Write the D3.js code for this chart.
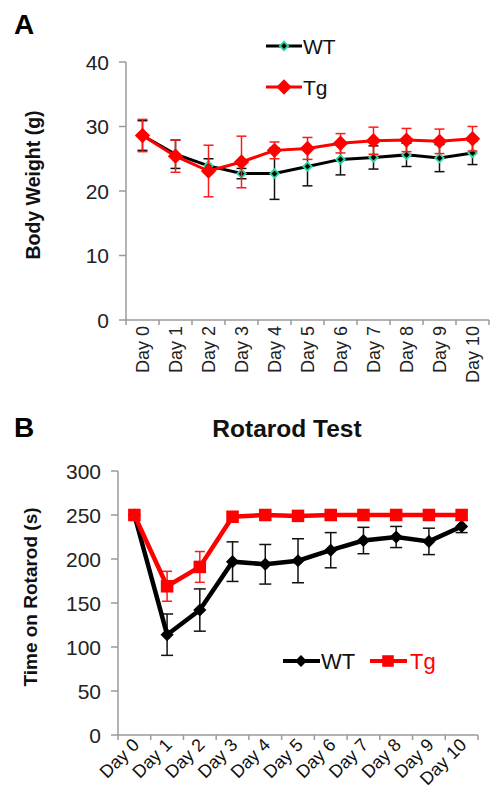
<!DOCTYPE html>
<html>
<head>
<meta charset="utf-8">
<script src="https://cdn.jsdelivr.net/npm/d3@7"></script>
<style>
  body { margin: 0; background: #fff; }
  svg { display: block; font-family: "Liberation Sans", Arial, sans-serif; }
</style>
</head>
<body>
<svg id="fig" width="491" height="800"></svg>
<script>
// --- data ---
const days = ["Day 0", "Day 1", "Day 2", "Day 3", "Day 4", "Day 5", "Day 6", "Day 7", "Day 8", "Day 9", "Day 10"];

// panel A: body weight (g)
const wtWeight    = [28.6, 25.7, 23.9, 22.7, 22.7, 23.8, 24.9, 25.2, 25.6, 25.1, 25.9];
const wtWeightErr = [2.3, 2.2, 1.1, 0.8, 4.0, 3.0, 2.4, 1.8, 1.8, 2.1, 1.8];
const tgWeight    = [28.6, 25.4, 23.1, 24.5, 26.3, 26.6, 27.4, 27.8, 27.9, 27.7, 28.1];
const tgWeightErr = [2.5, 2.5, 4.0, 4.0, 1.3, 1.7, 1.5, 2.1, 1.8, 1.9, 1.9];
const weightTicks = [0, 10, 20, 30, 40];

// panel B: rotarod time (s)
const wtRotarod    = [250, 114, 142, 197, 194, 198, 210, 221, 225, 220, 237];
const wtRotarodErr = [0, 23.5, 24, 22.5, 22.5, 25, 20, 15, 12, 15, 7];
const tgRotarod    = [250, 169, 191, 248, 250, 249, 250, 250, 250, 250, 250];
const tgRotarodErr = [0, 17, 17.5, 0, 0, 0, 0, 0, 0, 0, 0];
const rotarodTicks = [0, 50, 100, 150, 200, 250, 300];

const svg = d3.select("#fig");
const axisGrey = "#9a9a9a";

function drawAxes(g, x, y, ticks, x0, x1, yBottom) {
    // y axis line + ticks
    g.append("line").attr("x1", x0).attr("x2", x0)
        .attr("y1", y(d3.max(ticks))).attr("y2", yBottom)
        .attr("stroke", axisGrey).attr("stroke-width", 1.5);
    g.selectAll(".ytick").data(ticks).join("line")
        .attr("x1", x0 - 7).attr("x2", x0)
        .attr("y1", d => y(d)).attr("y2", d => y(d))
        .attr("stroke", axisGrey).attr("stroke-width", 1.5);
    g.selectAll(".ylab").data(ticks).join("text")
        .attr("x", x0 - 17).attr("y", d => y(d) + 7.5)
        .attr("text-anchor", "end").attr("font-size", 21).attr("fill", "#222")
        .text(d => d);
    // x axis line + category ticks
    g.append("line").attr("x1", x0).attr("x2", x1)
        .attr("y1", yBottom).attr("y2", yBottom)
        .attr("stroke", axisGrey).attr("stroke-width", 1.5);
    const edges = x.domain().map(d => x(d)).concat([x1]);
    g.selectAll(".xtick").data(edges).join("line")
        .attr("x1", d => d).attr("x2", d => d)
        .attr("y1", yBottom).attr("y2", yBottom + 5)
        .attr("stroke", axisGrey).attr("stroke-width", 1.5);
}

function errorBars(g, x, y, vals, errs, color, capW, sw) {
    const sel = g.append("g");
    vals.forEach((v, i) => {
        if (!errs[i]) return;
        const cx = x(days[i]) + x.bandwidth() / 2;
        const top = y(v + errs[i]), bot = y(v - errs[i]);
        sel.append("line").attr("x1", cx).attr("x2", cx).attr("y1", top).attr("y2", bot)
            .attr("stroke", color).attr("stroke-width", sw);
        [top, bot].forEach(yy => sel.append("line")
            .attr("x1", cx - capW / 2).attr("x2", cx + capW / 2).attr("y1", yy).attr("y2", yy)
            .attr("stroke", color).attr("stroke-width", sw));
    });
}

// ================= Panel A =================
const gA = svg.append("g");
const xA = d3.scaleBand().domain(days).range([126, 489]);
const yA = d3.scaleLinear().domain([0, 40]).range([320, 62]);
const cxA = d => xA(d) + xA.bandwidth() / 2;

gA.append("text").attr("x", 14).attr("y", 34).attr("font-size", 28).attr("font-weight", "bold").text("A");
gA.append("text").attr("transform", "translate(40,185) rotate(-90)")
    .attr("text-anchor", "middle").attr("font-size", 19.5).attr("font-weight", "bold").attr("fill", "#111")
    .text("Body Weight (g)");

drawAxes(gA, xA, yA, weightTicks, 126, 489, 320);

gA.selectAll(".xl").data(days).join("text")
    .attr("transform", d => `translate(${cxA(d) + 6.5},326) rotate(-90)`)
    .attr("text-anchor", "end").attr("font-size", 18).attr("fill", "#222")
    .text(d => d);

const lineA = d3.line().x((d, i) => cxA(days[i])).y(d => yA(d));

// WT
errorBars(gA, xA, yA, wtWeight, wtWeightErr, "#111", 10, 1.5);
gA.append("path").datum(wtWeight).attr("d", lineA).attr("fill", "none")
    .attr("stroke", "#000").attr("stroke-width", 3);
gA.selectAll(".wtm").data(wtWeight).join("path")
    .attr("transform", (d, i) => `translate(${cxA(days[i])},${yA(d)})`)
    .attr("d", d3.symbol(d3.symbolDiamond2, 46))
    .attr("fill", "#000").attr("stroke", "#2fd6a0").attr("stroke-width", 1.8);

// Tg
errorBars(gA, xA, yA, tgWeight, tgWeightErr, "#ff1a1a", 10, 1.5);
gA.append("path").datum(tgWeight).attr("d", lineA).attr("fill", "none")
    .attr("stroke", "#ff0000").attr("stroke-width", 3);
gA.selectAll(".tgm").data(tgWeight).join("path")
    .attr("transform", (d, i) => `translate(${cxA(days[i])},${yA(d)})`)
    .attr("d", d3.symbol(d3.symbolDiamond2, 150))
    .attr("fill", "#ff0000");

// legend A
const legA = gA.append("g");
legA.append("line").attr("x1", 266).attr("x2", 302).attr("y1", 46).attr("y2", 46).attr("stroke", "#000").attr("stroke-width", 3);
legA.append("path").attr("transform", "translate(284,46)").attr("d", d3.symbol(d3.symbolDiamond2, 46))
    .attr("fill", "#000").attr("stroke", "#2fd6a0").attr("stroke-width", 1.8);
legA.append("text").attr("x", 303).attr("y", 54).attr("font-size", 21).attr("fill", "#111").text("WT");
legA.append("line").attr("x1", 266).attr("x2", 302).attr("y1", 87).attr("y2", 87).attr("stroke", "#ff0000").attr("stroke-width", 3);
legA.append("path").attr("transform", "translate(284,87)").attr("d", d3.symbol(d3.symbolDiamond2, 150))
    .attr("fill", "#ff0000");
legA.append("text").attr("x", 303).attr("y", 95).attr("font-size", 21).attr("fill", "#111").text("Tg");

// ================= Panel B =================
const gB = svg.append("g");
const xB = d3.scaleBand().domain(days).range([118, 478]);
const yB = d3.scaleLinear().domain([0, 300]).range([735, 471]);
const cxB = d => xB(d) + xB.bandwidth() / 2;

gB.append("text").attr("x", 14).attr("y", 437).attr("font-size", 28).attr("font-weight", "bold").text("B");
gB.append("text").attr("x", 287).attr("y", 437).attr("text-anchor", "middle")
    .attr("font-size", 24.5).attr("font-weight", "bold").attr("fill", "#111").text("Rotarod Test");
gB.append("text").attr("transform", "translate(37,597) rotate(-90)")
    .attr("text-anchor", "middle").attr("font-size", 19).attr("font-weight", "bold").attr("fill", "#111")
    .text("Time on Rotarod (s)");

drawAxes(gB, xB, yB, rotarodTicks, 118, 478, 735);

gB.selectAll(".xl").data(days).join("text")
    .attr("transform", d => `translate(${cxB(d) + 6},746) rotate(-45)`)
    .attr("text-anchor", "end").attr("font-size", 18).attr("fill", "#111")
    .text(d => d);

const lineB = d3.line().x((d, i) => cxB(days[i])).y(d => yB(d));

// WT
errorBars(gB, xB, yB, wtRotarod, wtRotarodErr, "#111", 12, 1.5);
gB.append("path").datum(wtRotarod).attr("d", lineB).attr("fill", "none")
    .attr("stroke", "#000").attr("stroke-width", 4.5);
gB.selectAll(".wtm").data(wtRotarod).join("path")
    .attr("transform", (d, i) => `translate(${cxB(days[i])},${yB(d)})`)
    .attr("d", d3.symbol(d3.symbolDiamond2, 110))
    .attr("fill", "#000");

// Tg
errorBars(gB, xB, yB, tgRotarod, tgRotarodErr, "#ff1a1a", 10, 1.5);
gB.append("path").datum(tgRotarod).attr("d", lineB).attr("fill", "none")
    .attr("stroke", "#ff0000").attr("stroke-width", 4.5);
gB.selectAll(".tgm").data(tgRotarod).join("path")
    .attr("transform", (d, i) => `translate(${cxB(days[i])},${yB(d)})`)
    .attr("d", d3.symbol(d3.symbolSquare2, 200))
    .attr("fill", "#ff0000");

// legend B
const legB = gB.append("g");
legB.append("line").attr("x1", 283).attr("x2", 320).attr("y1", 661).attr("y2", 661).attr("stroke", "#000").attr("stroke-width", 4);
legB.append("path").attr("transform", "translate(301,661)").attr("d", d3.symbol(d3.symbolDiamond2, 90)).attr("fill", "#000");
legB.append("text").attr("x", 321).attr("y", 669).attr("font-size", 22).attr("fill", "#111").text("WT");
legB.append("line").attr("x1", 370).attr("x2", 407).attr("y1", 661).attr("y2", 661).attr("stroke", "#ff0000").attr("stroke-width", 4);
legB.append("path").attr("transform", "translate(388,661)").attr("d", d3.symbol(d3.symbolSquare2, 170)).attr("fill", "#ff0000");
legB.append("text").attr("x", 410).attr("y", 669).attr("font-size", 22).attr("fill", "#ff0000").text("Tg");
</script>
</body>
</html>
